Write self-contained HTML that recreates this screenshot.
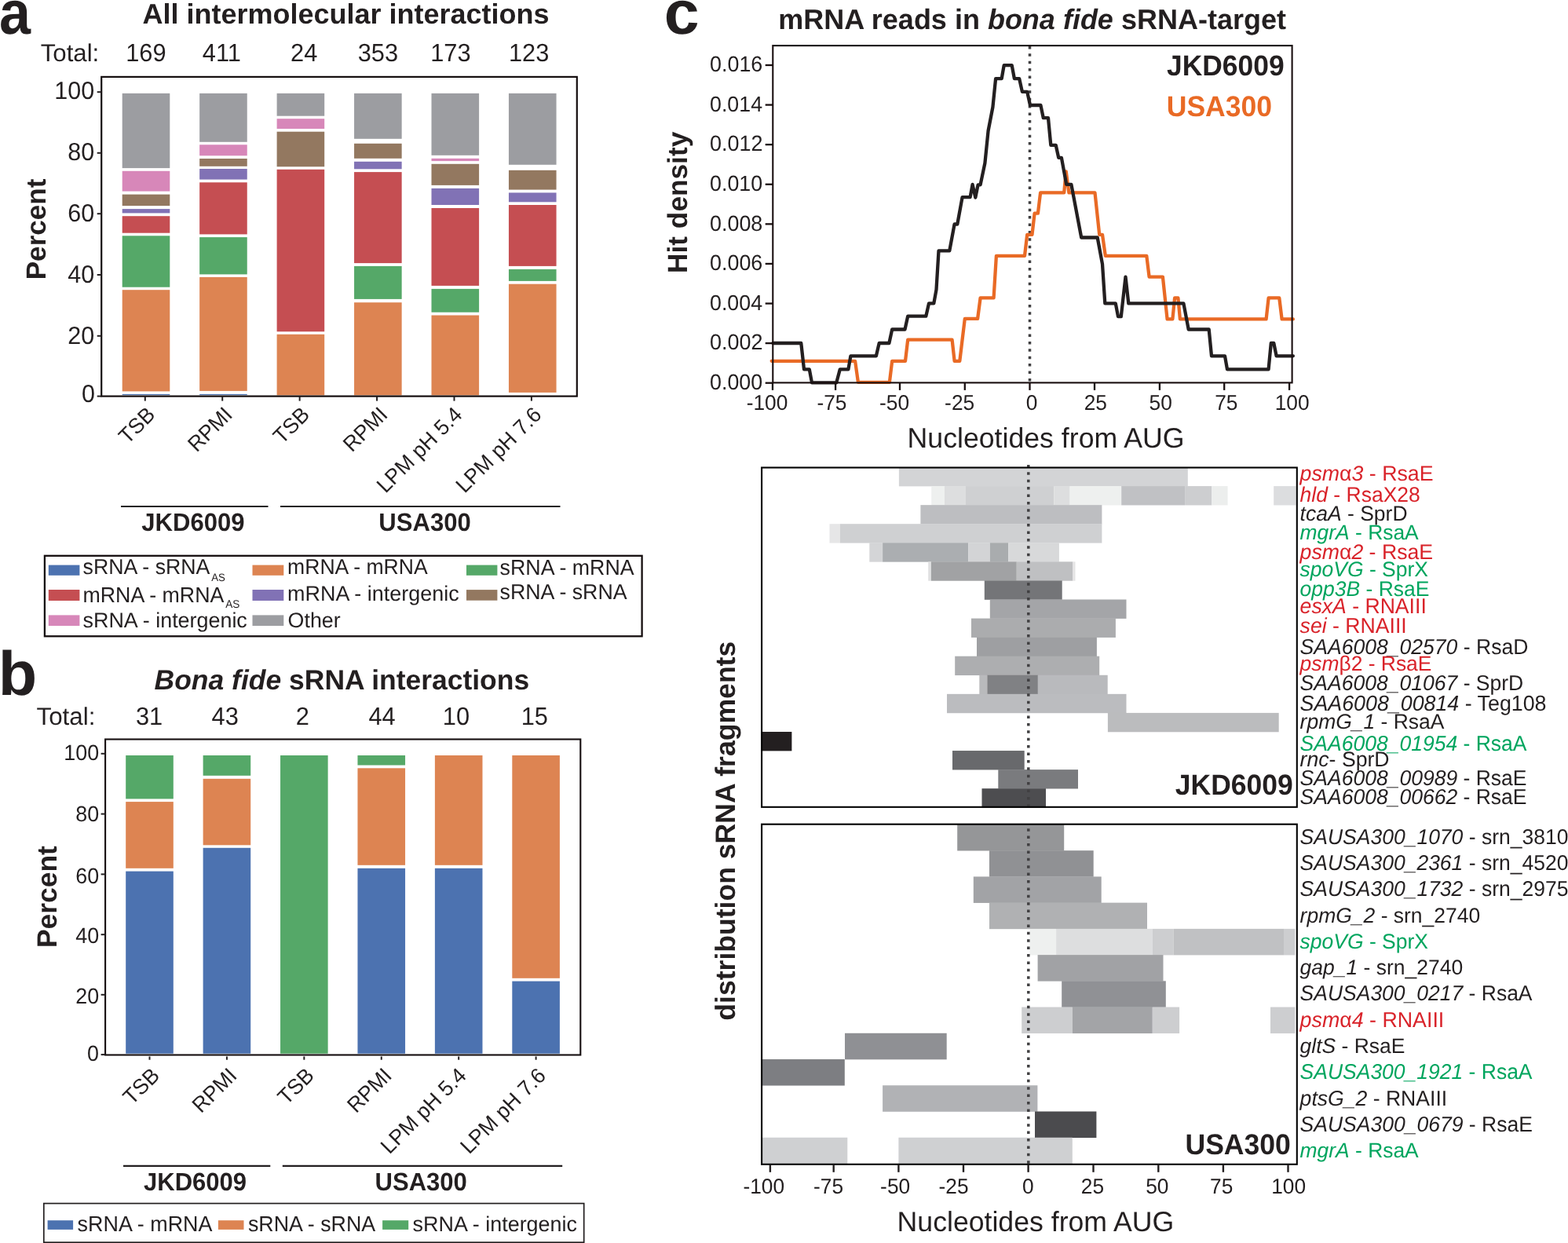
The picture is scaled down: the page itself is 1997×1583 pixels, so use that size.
<!DOCTYPE html>
<html lang="en"><head><meta charset="utf-8"><title>Figure</title>
<style>html,body{margin:0;padding:0;background:#fff;width:1997px;height:1583px;overflow:hidden}svg{display:block}text{white-space:pre}</style>
</head><body>
<svg width="1997" height="1583" viewBox="0 0 1997 1583" font-family="'Liberation Sans', Arial, sans-serif" text-rendering="geometricPrecision">
<text transform="translate(-0.96,42.50) scale(0.8995,0.9840)" font-size="80.00" font-weight="bold" fill="#231f20">a</text>
<text transform="translate(-2.26,884.70) scale(1.0120,0.9915)" font-size="80.00" font-weight="bold" fill="#231f20">b</text>
<text transform="translate(845.80,42.50) scale(1.0077,0.9840)" font-size="80.00" font-weight="bold" fill="#231f20">c</text>
<text transform="translate(181.40,30.00) scale(1,0.996)" font-size="36.00" font-weight="bold" fill="#231f20">All intermolecular interactions</text>
<text transform="translate(51.68,78.40) scale(1,1.003)" font-size="31.21" fill="#231f20">Total:</text>
<text transform="translate(160.20,78.40) scale(1,1.035)" font-size="30.80" fill="#231f20">169</text>
<text transform="translate(257.77,78.40) scale(1,1.035)" font-size="30.80" fill="#231f20">411</text>
<text transform="translate(370.05,78.40) scale(1,1.035)" font-size="30.80" fill="#231f20">24</text>
<text transform="translate(455.71,78.40) scale(1,1.035)" font-size="30.80" fill="#231f20">353</text>
<text transform="translate(548.17,78.40) scale(1,1.035)" font-size="30.80" fill="#231f20">173</text>
<text transform="translate(647.97,78.40) scale(1,1.035)" font-size="30.80" fill="#231f20">123</text>
<rect x="155.70" y="118.90" width="60.60" height="95.20" fill="#9c9da1"/>
<rect x="155.70" y="217.80" width="60.60" height="25.80" fill="#d787b9"/>
<rect x="155.70" y="247.60" width="60.60" height="14.50" fill="#937860"/>
<rect x="155.70" y="266.10" width="60.60" height="5.30" fill="#8172b5"/>
<rect x="155.70" y="275.20" width="60.60" height="21.50" fill="#c54e52"/>
<rect x="155.70" y="300.30" width="60.60" height="65.40" fill="#55a868"/>
<rect x="155.70" y="369.20" width="60.60" height="129.20" fill="#dd8452"/>
<rect x="155.70" y="501.90" width="60.60" height="1.20" fill="#4c72b0"/>
<rect x="254.15" y="118.90" width="60.60" height="61.90" fill="#9c9da1"/>
<rect x="254.15" y="184.30" width="60.60" height="14.00" fill="#d787b9"/>
<rect x="254.15" y="202.00" width="60.60" height="9.80" fill="#937860"/>
<rect x="254.15" y="215.00" width="60.60" height="13.60" fill="#8172b5"/>
<rect x="254.15" y="232.30" width="60.60" height="66.10" fill="#c54e52"/>
<rect x="254.15" y="302.10" width="60.60" height="47.30" fill="#55a868"/>
<rect x="254.15" y="352.90" width="60.60" height="145.00" fill="#dd8452"/>
<rect x="254.15" y="501.90" width="60.60" height="1.20" fill="#4c72b0"/>
<rect x="352.60" y="118.90" width="60.60" height="28.80" fill="#9c9da1"/>
<rect x="352.60" y="151.20" width="60.60" height="12.80" fill="#d787b9"/>
<rect x="352.60" y="167.70" width="60.60" height="44.60" fill="#937860"/>
<rect x="352.60" y="215.80" width="60.60" height="206.50" fill="#c54e52"/>
<rect x="352.60" y="425.80" width="60.60" height="77.60" fill="#dd8452"/>
<rect x="451.05" y="118.90" width="60.60" height="57.90" fill="#9c9da1"/>
<rect x="451.05" y="182.80" width="60.60" height="19.00" fill="#937860"/>
<rect x="451.05" y="205.80" width="60.60" height="9.50" fill="#8172b5"/>
<rect x="451.05" y="219.10" width="60.60" height="116.00" fill="#c54e52"/>
<rect x="451.05" y="338.90" width="60.60" height="42.00" fill="#55a868"/>
<rect x="451.05" y="385.20" width="60.60" height="118.20" fill="#dd8452"/>
<rect x="549.50" y="118.90" width="60.60" height="78.90" fill="#9c9da1"/>
<rect x="549.50" y="201.80" width="60.60" height="3.30" fill="#d787b9"/>
<rect x="549.50" y="208.80" width="60.60" height="27.10" fill="#937860"/>
<rect x="549.50" y="239.90" width="60.60" height="21.10" fill="#8172b5"/>
<rect x="549.50" y="265.00" width="60.60" height="98.90" fill="#c54e52"/>
<rect x="549.50" y="367.90" width="60.60" height="29.80" fill="#55a868"/>
<rect x="549.50" y="401.50" width="60.60" height="101.90" fill="#dd8452"/>
<rect x="647.95" y="118.90" width="60.60" height="90.90" fill="#9c9da1"/>
<rect x="647.95" y="216.80" width="60.60" height="24.80" fill="#937860"/>
<rect x="647.95" y="245.40" width="60.60" height="11.90" fill="#8172b5"/>
<rect x="647.95" y="261.00" width="60.60" height="77.90" fill="#c54e52"/>
<rect x="647.95" y="342.90" width="60.60" height="15.00" fill="#55a868"/>
<rect x="647.95" y="361.70" width="60.60" height="138.20" fill="#dd8452"/>
<rect x="129.20" y="97.90" width="605.60" height="406.70" fill="none" stroke="#150e0f" stroke-width="2.20"/>
<line x1="123.70" y1="117.20" x2="129.20" y2="117.20" stroke="#231f20" stroke-width="2.00"/>
<text transform="translate(69.28,125.50) scale(1,1.035)" font-size="30.50" fill="#231f20">100</text>
<line x1="123.70" y1="194.80" x2="129.20" y2="194.80" stroke="#231f20" stroke-width="2.00"/>
<text transform="translate(86.21,204.00) scale(1,1.035)" font-size="30.50" fill="#231f20">80</text>
<line x1="123.70" y1="272.20" x2="129.20" y2="272.20" stroke="#231f20" stroke-width="2.00"/>
<text transform="translate(86.21,282.10) scale(1,1.035)" font-size="30.50" fill="#231f20">60</text>
<line x1="123.70" y1="350.00" x2="129.20" y2="350.00" stroke="#231f20" stroke-width="2.00"/>
<text transform="translate(86.21,360.30) scale(1,1.035)" font-size="30.50" fill="#231f20">40</text>
<line x1="123.70" y1="427.80" x2="129.20" y2="427.80" stroke="#231f20" stroke-width="2.00"/>
<text transform="translate(86.21,437.90) scale(1,1.035)" font-size="30.50" fill="#231f20">20</text>
<line x1="123.70" y1="504.60" x2="129.20" y2="504.60" stroke="#231f20" stroke-width="2.00"/>
<text transform="translate(104.04,511.90) scale(1,1.035)" font-size="30.50" fill="#231f20">0</text>
<line x1="184.80" y1="504.60" x2="184.80" y2="510.60" stroke="#231f20" stroke-width="2.00"/>
<line x1="283.22" y1="504.60" x2="283.22" y2="510.60" stroke="#231f20" stroke-width="2.00"/>
<line x1="381.64" y1="504.60" x2="381.64" y2="510.60" stroke="#231f20" stroke-width="2.00"/>
<line x1="480.06" y1="504.60" x2="480.06" y2="510.60" stroke="#231f20" stroke-width="2.00"/>
<line x1="578.48" y1="504.60" x2="578.48" y2="510.60" stroke="#231f20" stroke-width="2.00"/>
<line x1="676.90" y1="504.60" x2="676.90" y2="510.60" stroke="#231f20" stroke-width="2.00"/>
<text transform="translate(58.30,356.28) rotate(-90) scale(1,1.001)" font-size="35.10" font-weight="bold" fill="#231f20">Percent</text>
<text transform="translate(199.00,529.80) rotate(-45) scale(1,1.035)" text-anchor="end" font-size="26.60" fill="#231f20">TSB</text>
<text transform="translate(297.42,529.80) rotate(-45) scale(1,1.035)" text-anchor="end" font-size="26.60" fill="#231f20">RPMI</text>
<text transform="translate(395.84,529.80) rotate(-45) scale(1,1.035)" text-anchor="end" font-size="26.60" fill="#231f20">TSB</text>
<text transform="translate(495.26,529.80) rotate(-45) scale(1,1.035)" text-anchor="end" font-size="26.60" fill="#231f20">RPMI</text>
<text transform="translate(590.18,529.80) rotate(-45) scale(1,1.029)" text-anchor="end" font-size="26.60" fill="#231f20">LPM pH 5.4</text>
<text transform="translate(691.10,529.80) rotate(-45) scale(1,1.029)" text-anchor="end" font-size="26.60" fill="#231f20">LPM pH 7.6</text>
<line x1="154.00" y1="645.00" x2="341.50" y2="645.00" stroke="#231f20" stroke-width="2.20"/>
<line x1="357.00" y1="645.00" x2="713.50" y2="645.00" stroke="#231f20" stroke-width="2.20"/>
<text transform="translate(180.33,675.50) scale(1,1.035)" font-size="31.07" font-weight="bold" fill="#231f20">JKD6009</text>
<text transform="translate(482.34,675.60) scale(1,1.035)" font-size="31.06" font-weight="bold" fill="#231f20">USA300</text>
<rect x="56.90" y="707.80" width="760.70" height="102.50" fill="none" stroke="#150e0f" stroke-width="2.30"/>
<rect x="61.80" y="719.60" width="39.60" height="13.20" fill="#4c72b0"/>
<rect x="61.80" y="751.00" width="39.60" height="14.00" fill="#c54e52"/>
<rect x="61.80" y="783.40" width="39.60" height="13.60" fill="#d787b9"/>
<rect x="321.50" y="719.60" width="39.80" height="13.20" fill="#dd8452"/>
<rect x="321.50" y="751.00" width="39.80" height="14.00" fill="#8172b5"/>
<rect x="321.50" y="783.40" width="39.80" height="13.60" fill="#9c9da1"/>
<rect x="594.00" y="719.60" width="39.40" height="13.20" fill="#55a868"/>
<rect x="594.00" y="751.10" width="39.40" height="13.60" fill="#937860"/>
<text transform="translate(105.60,731.20) scale(1,1.025)" font-size="26.72" fill="#231f20">sRNA - sRNA</text>
<text transform="translate(269.20,739.80) scale(1,1.035)" font-size="13.23" fill="#231f20">AS</text>
<text transform="translate(105.46,766.50) scale(1,1.025)" font-size="26.78" fill="#231f20">mRNA - mRNA</text>
<text transform="translate(287.20,774.00) scale(1,1.035)" font-size="13.62" fill="#231f20">AS</text>
<text transform="translate(105.59,798.70) scale(1,1.004)" font-size="26.90" fill="#231f20">sRNA - intergenic</text>
<text transform="translate(366.07,731.30) scale(1,1.025)" font-size="26.58" fill="#231f20">mRNA - mRNA</text>
<text transform="translate(366.05,764.80) scale(1,1.004)" font-size="26.94" fill="#231f20">mRNA - intergenic</text>
<text transform="translate(366.59,798.60) scale(1,1.003)" font-size="26.80" fill="#231f20">Other</text>
<text transform="translate(636.60,732.30) scale(1,1.025)" font-size="26.78" fill="#231f20">sRNA - mRNA</text>
<text transform="translate(636.60,762.90) scale(1,1.025)" font-size="26.76" fill="#231f20">sRNA - sRNA</text>
<text transform="translate(196.59,878.40) scale(1,1.002)" font-size="35.48" fill="#231f20"><tspan font-weight="bold" font-style="italic">Bona fide</tspan><tspan font-weight="bold"> sRNA interactions</tspan></text>
<text transform="translate(46.47,922.70) scale(1,1.003)" font-size="31.34" fill="#231f20">Total:</text>
<text transform="translate(172.98,922.70) scale(1,1.035)" font-size="30.80" fill="#231f20">31</text>
<text transform="translate(269.56,922.70) scale(1,1.035)" font-size="30.80" fill="#231f20">43</text>
<text transform="translate(376.80,922.70) scale(1,1.035)" font-size="30.80" fill="#231f20">2</text>
<text transform="translate(469.46,922.70) scale(1,1.035)" font-size="30.80" fill="#231f20">44</text>
<text transform="translate(563.79,922.70) scale(1,1.035)" font-size="30.80" fill="#231f20">10</text>
<text transform="translate(663.67,922.70) scale(1,1.035)" font-size="30.80" fill="#231f20">15</text>
<rect x="160.20" y="962.00" width="60.60" height="55.40" fill="#55a868"/>
<rect x="160.20" y="1021.10" width="60.60" height="84.70" fill="#dd8452"/>
<rect x="160.20" y="1109.60" width="60.60" height="232.20" fill="#4c72b0"/>
<rect x="258.62" y="962.00" width="60.60" height="25.80" fill="#55a868"/>
<rect x="258.62" y="991.80" width="60.60" height="84.50" fill="#dd8452"/>
<rect x="258.62" y="1079.80" width="60.60" height="262.00" fill="#4c72b0"/>
<rect x="357.04" y="962.00" width="60.60" height="379.80" fill="#55a868"/>
<rect x="455.46" y="962.00" width="60.60" height="12.50" fill="#55a868"/>
<rect x="455.46" y="978.30" width="60.60" height="123.50" fill="#dd8452"/>
<rect x="455.46" y="1105.80" width="60.60" height="236.00" fill="#4c72b0"/>
<rect x="553.88" y="962.00" width="60.60" height="139.80" fill="#dd8452"/>
<rect x="553.88" y="1105.80" width="60.60" height="236.00" fill="#4c72b0"/>
<rect x="652.30" y="962.00" width="60.60" height="283.80" fill="#dd8452"/>
<rect x="652.30" y="1249.60" width="60.60" height="92.20" fill="#4c72b0"/>
<rect x="134.10" y="941.50" width="605.20" height="402.00" fill="none" stroke="#150e0f" stroke-width="2.10"/>
<line x1="128.60" y1="959.80" x2="134.10" y2="959.80" stroke="#231f20" stroke-width="2.00"/>
<text transform="translate(81.25,968.30) scale(1,1.035)" font-size="26.90" fill="#231f20">100</text>
<line x1="128.60" y1="1036.60" x2="134.10" y2="1036.60" stroke="#231f20" stroke-width="2.00"/>
<text transform="translate(96.18,1045.90) scale(1,1.035)" font-size="26.90" fill="#231f20">80</text>
<line x1="128.60" y1="1113.40" x2="134.10" y2="1113.40" stroke="#231f20" stroke-width="2.00"/>
<text transform="translate(96.18,1124.60) scale(1,1.035)" font-size="26.90" fill="#231f20">60</text>
<line x1="128.60" y1="1190.20" x2="134.10" y2="1190.20" stroke="#231f20" stroke-width="2.00"/>
<text transform="translate(96.18,1201.00) scale(1,1.035)" font-size="26.90" fill="#231f20">40</text>
<line x1="128.60" y1="1266.80" x2="134.10" y2="1266.80" stroke="#231f20" stroke-width="2.00"/>
<text transform="translate(96.18,1277.90) scale(1,1.035)" font-size="26.90" fill="#231f20">20</text>
<line x1="128.60" y1="1343.10" x2="134.10" y2="1343.10" stroke="#231f20" stroke-width="2.00"/>
<text transform="translate(111.11,1350.60) scale(1,1.035)" font-size="26.90" fill="#231f20">0</text>
<line x1="190.50" y1="1345.50" x2="190.50" y2="1349.70" stroke="#231f20" stroke-width="2.00"/>
<line x1="288.92" y1="1345.50" x2="288.92" y2="1349.70" stroke="#231f20" stroke-width="2.00"/>
<line x1="387.34" y1="1345.50" x2="387.34" y2="1349.70" stroke="#231f20" stroke-width="2.00"/>
<line x1="485.76" y1="1345.50" x2="485.76" y2="1349.70" stroke="#231f20" stroke-width="2.00"/>
<line x1="584.18" y1="1345.50" x2="584.18" y2="1349.70" stroke="#231f20" stroke-width="2.00"/>
<line x1="682.60" y1="1345.50" x2="682.60" y2="1349.70" stroke="#231f20" stroke-width="2.00"/>
<text transform="translate(72.40,1207.00) rotate(-90) scale(1,1.001)" font-size="35.40" font-weight="bold" fill="#231f20">Percent</text>
<text transform="translate(204.70,1371.50) rotate(-45) scale(1,1.035)" text-anchor="end" font-size="26.60" fill="#231f20">TSB</text>
<text transform="translate(303.12,1371.50) rotate(-45) scale(1,1.035)" text-anchor="end" font-size="26.60" fill="#231f20">RPMI</text>
<text transform="translate(401.54,1371.50) rotate(-45) scale(1,1.035)" text-anchor="end" font-size="26.60" fill="#231f20">TSB</text>
<text transform="translate(500.46,1371.50) rotate(-45) scale(1,1.035)" text-anchor="end" font-size="26.60" fill="#231f20">RPMI</text>
<text transform="translate(595.38,1371.50) rotate(-45) scale(1,1.029)" text-anchor="end" font-size="26.60" fill="#231f20">LPM pH 5.4</text>
<text transform="translate(696.80,1371.50) rotate(-45) scale(1,1.029)" text-anchor="end" font-size="26.60" fill="#231f20">LPM pH 7.6</text>
<line x1="157.00" y1="1484.80" x2="344.30" y2="1484.80" stroke="#231f20" stroke-width="2.20"/>
<line x1="359.80" y1="1484.80" x2="716.20" y2="1484.80" stroke="#231f20" stroke-width="2.20"/>
<text transform="translate(183.03,1516.30) scale(1,1.035)" font-size="31.02" font-weight="bold" fill="#231f20">JKD6009</text>
<text transform="translate(477.54,1516.30) scale(1,1.035)" font-size="31.06" font-weight="bold" fill="#231f20">USA300</text>
<rect x="55.80" y="1532.60" width="687.90" height="49.60" fill="none" stroke="#231f20" stroke-width="1.70"/>
<rect x="60.60" y="1554.20" width="32.50" height="11.70" fill="#4c72b0"/>
<rect x="277.90" y="1554.20" width="32.60" height="11.70" fill="#dd8452"/>
<rect x="487.10" y="1554.20" width="33.10" height="11.70" fill="#55a868"/>
<text transform="translate(98.59,1567.70) scale(1,1.025)" font-size="26.91" fill="#231f20">sRNA - mRNA</text>
<text transform="translate(315.90,1567.70) scale(1,1.025)" font-size="26.80" fill="#231f20">sRNA - sRNA</text>
<text transform="translate(525.59,1567.70) scale(1,1.004)" font-size="26.91" fill="#231f20">sRNA - intergenic</text>
<text transform="translate(991.16,36.60) scale(1,1.003)" font-size="36.00" fill="#231f20"><tspan font-weight="bold">mRNA reads in </tspan><tspan font-weight="bold" font-style="italic">bona fide</tspan><tspan font-weight="bold"> sRNA-target</tspan></text>
<line x1="1311.50" y1="58.90" x2="1311.50" y2="487.40" stroke="#414042" stroke-width="3.50" stroke-dasharray="3.5 5.9"/>
<polyline fill="none" stroke="#e96a25" stroke-width="4.30" stroke-linejoin="round" stroke-linecap="round" points="982.7,459.8 1089.1,459.8 1092.9,486.8 1132.9,486.8 1136.2,459.8 1153.0,459.8 1156.2,432.7 1212.6,432.7 1215.6,459.8 1222.3,459.8 1228.8,405.9 1245.1,405.9 1248.6,379.4 1265.6,379.4 1268.9,325.8 1305.0,325.8 1308.2,298.8 1314.5,298.8 1317.6,271.7 1321.9,271.7 1325.1,245.4 1355.2,245.4 1357.7,218.3 1361.4,245.4 1394.5,245.4 1400.2,298.8 1404.0,298.8 1407.8,325.8 1460.3,325.8 1463.6,352.6 1480.9,352.6 1486.6,406.4 1493.4,406.4 1496.1,379.4 1500.4,379.4 1502.9,406.4 1612.6,406.4 1615.6,379.4 1629.3,379.4 1632.6,406.4 1646.9,406.4"/>
<polyline fill="none" stroke="#231f20" stroke-width="4.30" stroke-linejoin="round" stroke-linecap="round" points="984.5,437.0 1020.3,437.0 1024.0,470.3 1030.8,470.3 1034.0,487.3 1065.3,487.3 1069.8,470.3 1080.4,470.3 1083.4,453.3 1115.9,453.3 1119.7,437.0 1132.4,437.0 1136.2,419.5 1152.5,419.5 1156.2,402.7 1179.3,402.7 1183.0,386.4 1189.3,386.4 1192.5,368.9 1195.5,319.3 1209.3,319.3 1215.6,285.5 1219.3,285.5 1225.6,251.1 1235.6,251.1 1238.6,234.9 1242.3,251.6 1245.6,235.4 1248.6,235.4 1254.4,207.8 1258.6,166.5 1264.4,136.5 1268.1,100.2 1275.7,100.2 1278.7,83.2 1288.7,83.2 1291.9,100.2 1298.2,100.2 1301.9,116.9 1308.2,116.9 1312.0,134.0 1325.4,134.0 1328.8,150.2 1335.0,150.2 1338.3,184.8 1344.7,184.8 1348.2,200.8 1351.9,200.8 1358.2,234.9 1364.4,234.9 1377.2,302.5 1397.7,302.5 1404.0,336.3 1407.3,386.4 1420.8,386.4 1424.0,403.2 1427.8,403.2 1433.5,352.6 1437.3,386.4 1507.4,386.4 1513.7,419.5 1539.7,419.5 1543.0,453.3 1560.0,453.3 1563.0,470.3 1615.6,470.3 1618.8,437.0 1622.3,437.0 1625.6,453.3 1646.9,453.3"/>
<rect x="984.30" y="58.10" width="661.30" height="429.30" fill="none" stroke="#1a0f10" stroke-width="2.10"/>
<line x1="974.70" y1="487.70" x2="984.30" y2="487.70" stroke="#1a0f10" stroke-width="2.30"/>
<text transform="translate(904.03,496.00) scale(1,1.035)" font-size="26.85" fill="#231f20">0.000</text>
<line x1="974.70" y1="437.11" x2="984.30" y2="437.11" stroke="#1a0f10" stroke-width="2.30"/>
<text transform="translate(904.02,445.41) scale(1,1.035)" font-size="27.01" fill="#231f20">0.002</text>
<line x1="974.70" y1="386.52" x2="984.30" y2="386.52" stroke="#1a0f10" stroke-width="2.30"/>
<text transform="translate(904.03,394.82) scale(1,1.035)" font-size="26.79" fill="#231f20">0.004</text>
<line x1="974.70" y1="335.93" x2="984.30" y2="335.93" stroke="#1a0f10" stroke-width="2.30"/>
<text transform="translate(904.02,344.23) scale(1,1.035)" font-size="26.90" fill="#231f20">0.006</text>
<line x1="974.70" y1="285.34" x2="984.30" y2="285.34" stroke="#1a0f10" stroke-width="2.30"/>
<text transform="translate(904.02,293.64) scale(1,1.035)" font-size="26.90" fill="#231f20">0.008</text>
<line x1="974.70" y1="234.75" x2="984.30" y2="234.75" stroke="#1a0f10" stroke-width="2.30"/>
<text transform="translate(904.03,243.05) scale(1,1.035)" font-size="26.85" fill="#231f20">0.010</text>
<line x1="974.70" y1="184.16" x2="984.30" y2="184.16" stroke="#1a0f10" stroke-width="2.30"/>
<text transform="translate(904.02,192.46) scale(1,1.035)" font-size="27.01" fill="#231f20">0.012</text>
<line x1="974.70" y1="133.57" x2="984.30" y2="133.57" stroke="#1a0f10" stroke-width="2.30"/>
<text transform="translate(904.03,141.87) scale(1,1.035)" font-size="26.79" fill="#231f20">0.014</text>
<line x1="974.70" y1="82.98" x2="984.30" y2="82.98" stroke="#1a0f10" stroke-width="2.30"/>
<text transform="translate(904.02,91.28) scale(1,1.035)" font-size="26.90" fill="#231f20">0.016</text>
<line x1="984.00" y1="487.40" x2="984.00" y2="496.90" stroke="#1a0f10" stroke-width="2.30"/>
<text transform="translate(950.72,522.40) scale(1,1.035)" font-size="26.30" fill="#231f20">-100</text>
<line x1="1064.10" y1="487.40" x2="1064.10" y2="496.90" stroke="#1a0f10" stroke-width="2.30"/>
<text transform="translate(1040.42,522.40) scale(1,1.035)" font-size="26.30" fill="#231f20">-75</text>
<line x1="1146.00" y1="487.40" x2="1146.00" y2="496.90" stroke="#1a0f10" stroke-width="2.30"/>
<text transform="translate(1120.02,522.40) scale(1,1.035)" font-size="26.30" fill="#231f20">-50</text>
<line x1="1228.80" y1="487.40" x2="1228.80" y2="496.90" stroke="#1a0f10" stroke-width="2.30"/>
<text transform="translate(1203.12,522.40) scale(1,1.035)" font-size="26.30" fill="#231f20">-25</text>
<line x1="1311.50" y1="487.40" x2="1311.50" y2="496.90" stroke="#1a0f10" stroke-width="2.30"/>
<text transform="translate(1306.65,522.40) scale(1,1.035)" font-size="26.30" fill="#231f20">0</text>
<line x1="1394.00" y1="487.40" x2="1394.00" y2="496.90" stroke="#1a0f10" stroke-width="2.30"/>
<text transform="translate(1380.68,522.40) scale(1,1.035)" font-size="26.30" fill="#231f20">25</text>
<line x1="1476.90" y1="487.40" x2="1476.90" y2="496.90" stroke="#1a0f10" stroke-width="2.30"/>
<text transform="translate(1463.55,522.40) scale(1,1.035)" font-size="26.30" fill="#231f20">50</text>
<line x1="1559.20" y1="487.40" x2="1559.20" y2="496.90" stroke="#1a0f10" stroke-width="2.30"/>
<text transform="translate(1547.18,522.40) scale(1,1.035)" font-size="26.30" fill="#231f20">75</text>
<line x1="1642.10" y1="487.40" x2="1642.10" y2="496.90" stroke="#1a0f10" stroke-width="2.30"/>
<text transform="translate(1623.63,522.40) scale(1,1.035)" font-size="26.30" fill="#231f20">100</text>
<text transform="translate(1155.55,569.70) scale(1,1.004)" font-size="35.68" fill="#231f20">Nucleotides from AUG</text>
<text transform="translate(875.00,347.89) rotate(-90) scale(1,0.999)" font-size="35.24" font-weight="bold" fill="#231f20">Hit density</text>
<text transform="translate(1486.07,96.10) scale(1,1.035)" font-size="35.40" font-weight="bold" fill="#231f20">JKD6009</text>
<text transform="translate(1485.77,148.20) scale(1,1.035)" font-size="35.52" font-weight="bold" fill="#e96a25">USA300</text>
<rect x="1144.90" y="595.00" width="367.90" height="24.37" fill="#d3d4d6"/>
<rect x="1186.20" y="619.07" width="16.80" height="24.37" fill="#eef0ef"/>
<rect x="1203.00" y="619.07" width="27.00" height="24.37" fill="#dddedf"/>
<rect x="1230.00" y="619.07" width="112.30" height="24.37" fill="#cfd0d2"/>
<rect x="1342.30" y="619.07" width="20.30" height="24.37" fill="#dddedf"/>
<rect x="1362.60" y="619.07" width="65.60" height="24.37" fill="#eef0ef"/>
<rect x="1428.20" y="619.07" width="80.90" height="24.37" fill="#c0c1c4"/>
<rect x="1509.10" y="619.07" width="34.30" height="24.37" fill="#cdced0"/>
<rect x="1543.40" y="619.07" width="20.20" height="24.37" fill="#eceeed"/>
<rect x="1622.20" y="619.07" width="28.30" height="24.37" fill="#dcdddf"/>
<rect x="1172.40" y="643.14" width="231.00" height="24.37" fill="#bdbec1"/>
<rect x="1056.50" y="667.21" width="13.30" height="24.37" fill="#e6e6e7"/>
<rect x="1069.80" y="667.21" width="333.60" height="24.37" fill="#cfd0d2"/>
<rect x="1107.30" y="691.28" width="16.80" height="24.37" fill="#d4d5d7"/>
<rect x="1124.10" y="691.28" width="109.10" height="24.37" fill="#abaeb1"/>
<rect x="1233.20" y="691.28" width="27.60" height="24.37" fill="#d3d4d6"/>
<rect x="1260.80" y="691.28" width="23.50" height="24.37" fill="#a9acae"/>
<rect x="1284.30" y="691.28" width="64.60" height="24.37" fill="#d8d9da"/>
<rect x="1182.20" y="715.35" width="3.70" height="24.37" fill="#e0e0e1"/>
<rect x="1185.90" y="715.35" width="108.90" height="24.37" fill="#a1a2a4"/>
<rect x="1294.80" y="715.35" width="71.60" height="24.37" fill="#bfc0c2"/>
<rect x="1366.40" y="715.35" width="3.10" height="24.37" fill="#e5e5e5"/>
<rect x="1253.80" y="739.42" width="98.90" height="24.37" fill="#747578"/>
<rect x="1260.80" y="763.49" width="173.70" height="24.37" fill="#a4a5a8"/>
<rect x="1237.00" y="787.56" width="183.90" height="24.37" fill="#abacae"/>
<rect x="1244.00" y="811.63" width="152.90" height="24.37" fill="#9e9fa2"/>
<rect x="1216.20" y="835.70" width="184.00" height="24.37" fill="#adaeb0"/>
<rect x="1247.30" y="859.77" width="10.00" height="24.37" fill="#b9babc"/>
<rect x="1257.30" y="859.77" width="64.60" height="24.37" fill="#808184"/>
<rect x="1321.90" y="859.77" width="88.80" height="24.37" fill="#b9babd"/>
<rect x="1206.00" y="883.84" width="228.50" height="24.37" fill="#bbbcbf"/>
<rect x="1410.90" y="907.91" width="217.80" height="24.37" fill="#bbbcbe"/>
<rect x="970.00" y="931.98" width="38.40" height="24.37" fill="#231f20"/>
<rect x="1213.00" y="956.05" width="91.70" height="24.37" fill="#68696c"/>
<rect x="1271.30" y="980.12" width="101.70" height="24.37" fill="#7a7b7e"/>
<rect x="1250.50" y="1004.19" width="81.50" height="24.37" fill="#4d4d50"/>
<rect x="1219.20" y="1049.95" width="136.00" height="33.53" fill="#959698"/>
<rect x="1260.00" y="1083.18" width="132.70" height="33.53" fill="#909194"/>
<rect x="1239.80" y="1116.41" width="162.90" height="33.53" fill="#a2a3a6"/>
<rect x="1260.00" y="1149.64" width="201.00" height="33.53" fill="#b0b1b3"/>
<rect x="1311.40" y="1182.87" width="33.70" height="33.53" fill="#eef0ef"/>
<rect x="1345.10" y="1182.87" width="122.70" height="33.53" fill="#dddedf"/>
<rect x="1467.80" y="1182.87" width="27.00" height="33.53" fill="#cdced0"/>
<rect x="1494.80" y="1182.87" width="140.20" height="33.53" fill="#c0c1c3"/>
<rect x="1635.00" y="1182.87" width="14.30" height="33.53" fill="#cdced0"/>
<rect x="1321.60" y="1216.10" width="159.90" height="33.53" fill="#a1a2a5"/>
<rect x="1352.20" y="1249.33" width="132.60" height="33.53" fill="#909195"/>
<rect x="1301.20" y="1282.56" width="64.60" height="33.53" fill="#cdced0"/>
<rect x="1365.80" y="1282.56" width="102.00" height="33.53" fill="#a3a4a7"/>
<rect x="1467.80" y="1282.56" width="34.30" height="33.53" fill="#cdced0"/>
<rect x="1618.00" y="1282.56" width="31.30" height="33.53" fill="#cdced0"/>
<rect x="1076.00" y="1315.79" width="129.70" height="33.53" fill="#8f9094"/>
<rect x="970.00" y="1349.02" width="105.80" height="33.53" fill="#7d7e82"/>
<rect x="1124.10" y="1382.25" width="197.30" height="33.53" fill="#b1b2b5"/>
<rect x="1318.00" y="1415.48" width="78.40" height="33.53" fill="#4b4b4e"/>
<rect x="970.00" y="1448.71" width="109.30" height="33.53" fill="#cfd0d2"/>
<rect x="1144.40" y="1448.71" width="221.40" height="33.53" fill="#cfd0d2"/>
<line x1="1309.80" y1="591.90" x2="1309.80" y2="1027.80" stroke="#414042" stroke-width="3.50" stroke-dasharray="3.5 5.9"/>
<line x1="1309.80" y1="1055.20" x2="1309.80" y2="1482.80" stroke="#414042" stroke-width="3.50" stroke-dasharray="3.5 5.9"/>
<rect x="970.10" y="595.50" width="681.70" height="432.30" fill="none" stroke="#000" stroke-width="2.10"/>
<rect x="970.10" y="1049.70" width="681.70" height="433.10" fill="none" stroke="#000" stroke-width="2.10"/>
<text transform="translate(1496.77,1011.50) scale(1,1.035)" font-size="35.50" font-weight="bold" fill="#231f20">JKD6009</text>
<text transform="translate(1509.47,1469.50) scale(1,1.035)" font-size="35.57" font-weight="bold" fill="#231f20">USA300</text>
<line x1="980.90" y1="1482.80" x2="980.90" y2="1492.80" stroke="#231f20" stroke-width="2.40"/>
<text transform="translate(946.42,1519.60) scale(1,1.035)" font-size="26.30" fill="#231f20">-100</text>
<line x1="1061.70" y1="1482.80" x2="1061.70" y2="1492.80" stroke="#231f20" stroke-width="2.40"/>
<text transform="translate(1036.02,1519.60) scale(1,1.035)" font-size="26.30" fill="#231f20">-75</text>
<line x1="1144.40" y1="1482.80" x2="1144.40" y2="1492.80" stroke="#231f20" stroke-width="2.40"/>
<text transform="translate(1121.12,1519.60) scale(1,1.035)" font-size="26.30" fill="#231f20">-50</text>
<line x1="1227.00" y1="1482.80" x2="1227.00" y2="1492.80" stroke="#231f20" stroke-width="2.40"/>
<text transform="translate(1195.52,1519.60) scale(1,1.035)" font-size="26.30" fill="#231f20">-25</text>
<line x1="1309.60" y1="1482.80" x2="1309.60" y2="1492.80" stroke="#231f20" stroke-width="2.40"/>
<text transform="translate(1302.05,1519.60) scale(1,1.035)" font-size="26.30" fill="#231f20">0</text>
<line x1="1392.50" y1="1482.80" x2="1392.50" y2="1492.80" stroke="#231f20" stroke-width="2.40"/>
<text transform="translate(1376.78,1519.60) scale(1,1.035)" font-size="26.30" fill="#231f20">25</text>
<line x1="1475.30" y1="1482.80" x2="1475.30" y2="1492.80" stroke="#231f20" stroke-width="2.40"/>
<text transform="translate(1459.15,1519.60) scale(1,1.035)" font-size="26.30" fill="#231f20">50</text>
<line x1="1557.90" y1="1482.80" x2="1557.90" y2="1492.80" stroke="#231f20" stroke-width="2.40"/>
<text transform="translate(1541.09,1519.60) scale(1,1.035)" font-size="26.30" fill="#231f20">75</text>
<line x1="1640.50" y1="1482.80" x2="1640.50" y2="1492.80" stroke="#231f20" stroke-width="2.40"/>
<text transform="translate(1619.23,1519.60) scale(1,1.035)" font-size="26.30" fill="#231f20">100</text>
<text transform="translate(1142.55,1568.40) scale(1,1.004)" font-size="35.67" fill="#231f20">Nucleotides from AUG</text>
<text transform="translate(936.30,1299.72) rotate(-90) scale(1,1.000)" font-size="35.59" font-weight="bold" fill="#231f20">distribution sRNA fragments</text>
<text transform="translate(1655.60,612.00) scale(1,1.008)" font-size="26.72" fill="#d9232a"><tspan font-style="italic">psm</tspan><tspan>α</tspan><tspan font-style="italic">3</tspan><tspan> - RsaE</tspan></text>
<text transform="translate(1655.60,639.10) scale(1,1.013)" font-size="26.50" fill="#d9232a"><tspan font-style="italic">hld</tspan><tspan> - RsaX28</tspan></text>
<text transform="translate(1655.60,663.10) scale(1,1.010)" font-size="26.50" fill="#231f20"><tspan font-style="italic">tcaA</tspan><tspan> - SprD</tspan></text>
<text transform="translate(1655.60,687.20) scale(1,1.010)" font-size="26.42" fill="#00a55e"><tspan font-style="italic">mgrA</tspan><tspan> - RsaA</tspan></text>
<text transform="translate(1655.60,711.80) scale(1,1.008)" font-size="26.67" fill="#d9232a"><tspan font-style="italic">psm</tspan><tspan>α</tspan><tspan font-style="italic">2</tspan><tspan> - RsaE</tspan></text>
<text transform="translate(1655.60,734.20) scale(1,1.013)" font-size="26.47" fill="#00a55e"><tspan font-style="italic">spoVG</tspan><tspan> - SprX</tspan></text>
<text transform="translate(1655.60,759.30) scale(1,1.013)" font-size="26.48" fill="#00a55e"><tspan font-style="italic">opp3B</tspan><tspan> - RsaE</tspan></text>
<text transform="translate(1655.60,780.90) scale(1,1.023)" font-size="26.61" fill="#d9232a"><tspan font-style="italic">esxA</tspan><tspan> - RNAIII</tspan></text>
<text transform="translate(1655.60,806.30) scale(1,1.022)" font-size="26.64" fill="#d9232a"><tspan font-style="italic">sei</tspan><tspan> - RNAIII</tspan></text>
<text transform="translate(1655.60,833.00) scale(1,1.030)" font-size="26.55" fill="#231f20"><tspan font-style="italic">SAA6008_02570</tspan><tspan> - RsaD</tspan></text>
<text transform="translate(1655.60,853.70) scale(1,1.008)" font-size="26.42" fill="#d9232a"><tspan font-style="italic">psm</tspan><tspan>β</tspan><tspan>2</tspan><tspan> - RsaE</tspan></text>
<text transform="translate(1655.60,879.10) scale(1,1.030)" font-size="26.54" fill="#231f20"><tspan font-style="italic">SAA6008_01067</tspan><tspan> - SprD</tspan></text>
<text transform="translate(1655.60,905.20) scale(1,1.031)" font-size="26.81" fill="#231f20"><tspan font-style="italic">SAA6008_00814</tspan><tspan> - Teg108</tspan></text>
<text transform="translate(1655.60,927.60) scale(1,1.013)" font-size="26.47" fill="#231f20"><tspan font-style="italic">rpmG_1</tspan><tspan> - RsaA</tspan></text>
<text transform="translate(1655.60,955.80) scale(1,1.030)" font-size="26.52" fill="#00a55e"><tspan font-style="italic">SAA6008_01954</tspan><tspan> - RsaA</tspan></text>
<text transform="translate(1655.60,976.30) scale(1,1.006)" font-size="26.65" fill="#231f20"><tspan font-style="italic">rnc</tspan><tspan>- SprD</tspan></text>
<text transform="translate(1655.60,1000.30) scale(1,1.030)" font-size="26.53" fill="#231f20"><tspan font-style="italic">SAA6008_00989</tspan><tspan> - RsaE</tspan></text>
<text transform="translate(1655.60,1024.30) scale(1,1.030)" font-size="26.53" fill="#231f20"><tspan font-style="italic">SAA6008_00662</tspan><tspan> - RsaE</tspan></text>
<text transform="translate(1655.60,1074.70) scale(1,1.029)" font-size="26.50" fill="#231f20"><tspan font-style="italic">SAUSA300_1070</tspan><tspan> - srn_3810</tspan></text>
<text transform="translate(1655.60,1108.10) scale(1,1.029)" font-size="26.50" fill="#231f20"><tspan font-style="italic">SAUSA300_2361</tspan><tspan> - srn_4520</tspan></text>
<text transform="translate(1655.60,1141.20) scale(1,1.029)" font-size="26.51" fill="#231f20"><tspan font-style="italic">SAUSA300_1732</tspan><tspan> - srn_2975</tspan></text>
<text transform="translate(1655.60,1174.60) scale(1,1.015)" font-size="26.49" fill="#231f20"><tspan font-style="italic">rpmG_2</tspan><tspan> - srn_2740</tspan></text>
<text transform="translate(1655.60,1207.90) scale(1,1.013)" font-size="26.47" fill="#00a55e"><tspan font-style="italic">spoVG</tspan><tspan> - SprX</tspan></text>
<text transform="translate(1655.60,1240.90) scale(1,1.013)" font-size="26.49" fill="#231f20"><tspan font-style="italic">gap_1</tspan><tspan> - srn_2740</tspan></text>
<text transform="translate(1655.60,1274.40) scale(1,1.030)" font-size="26.49" fill="#231f20"><tspan font-style="italic">SAUSA300_0217</tspan><tspan> - RsaA</tspan></text>
<text transform="translate(1655.60,1307.70) scale(1,1.020)" font-size="26.79" fill="#d9232a"><tspan font-style="italic">psm</tspan><tspan>α</tspan><tspan font-style="italic">4</tspan><tspan> - RNAIII</tspan></text>
<text transform="translate(1655.60,1340.70) scale(1,1.010)" font-size="26.47" fill="#231f20"><tspan font-style="italic">gltS</tspan><tspan> - RsaE</tspan></text>
<text transform="translate(1655.60,1374.20) scale(1,1.030)" font-size="26.49" fill="#00a55e"><tspan font-style="italic">SAUSA300_1921</tspan><tspan> - RsaA</tspan></text>
<text transform="translate(1655.60,1407.60) scale(1,1.024)" font-size="26.59" fill="#231f20"><tspan font-style="italic">ptsG_2</tspan><tspan> - RNAIII</tspan></text>
<text transform="translate(1655.60,1440.70) scale(1,1.030)" font-size="26.53" fill="#231f20"><tspan font-style="italic">SAUSA300_0679</tspan><tspan> - RsaE</tspan></text>
<text transform="translate(1655.60,1473.90) scale(1,1.010)" font-size="26.42" fill="#00a55e"><tspan font-style="italic">mgrA</tspan><tspan> - RsaA</tspan></text>
</svg>
</body></html>
